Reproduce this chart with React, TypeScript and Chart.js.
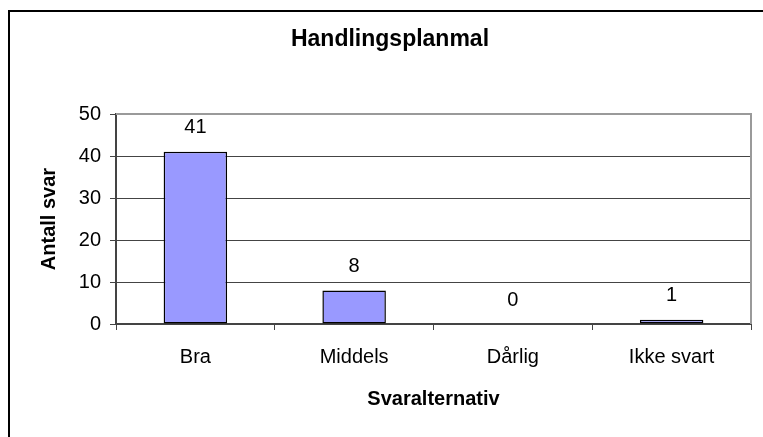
import React, { useEffect, useRef } from "react";
import { Chart, registerables } from "chart.js";
Chart.register(...registerables);

const categories = ["Bra", "Middels", "Dårlig", "Ikke svart"];
const values = [41, 8, 0, 1];
const yTicks = [0, 10, 20, 30, 40, 50];
const titleText = "Handlingsplanmal";
const yTitleText = "Antall svar";
const xTitleText = "Svaralternativ";

const FONT = "'Liberation Sans', Arial, sans-serif";
const W = 753;
const H = 425;

export default function App() {
  const ref = useRef<HTMLCanvasElement>(null);
  useEffect(() => {
    const canvas = ref.current;
    if (!canvas) return;

    const dataLabels = {
      id: "dataLabels",
      afterDatasetsDraw(chart: any) {
        const ctx = chart.ctx;
        const meta = chart.getDatasetMeta(0);
        ctx.save();
        ctx.font = `20px ${FONT}`;
        ctx.fillStyle = "#000";
        ctx.textAlign = "center";
        ctx.textBaseline = "middle";
        meta.data.forEach((el: any, i: number) => {
          ctx.fillText(String(values[i]), el.x, el.y - 24);
        });
        ctx.restore();
      },
    };

    const frame = {
      id: "frame",
      beforeDatasetsDraw(chart: any) {
        const { left, right, top, bottom } = chart.chartArea;
        const ctx = chart.ctx;
        ctx.save();
        ctx.strokeStyle = "#9a9a9a";
        ctx.lineWidth = 2;
        ctx.beginPath();
        ctx.moveTo(left, top);
        ctx.lineTo(right, top);
        ctx.lineTo(right, bottom);
        ctx.stroke();
        ctx.restore();
      },
    };

    const chart = new Chart(canvas, {
      type: "bar",
      data: {
        labels: categories,
        datasets: [
          {
            data: values,
            backgroundColor: "#9999FF",
            borderColor: "#000",
            borderWidth: 1.5,
            borderSkipped: false,
            barPercentage: 0.4,
            categoryPercentage: 1,
          },
        ],
      },
      options: {
        responsive: false,
        animation: false,
        devicePixelRatio: 1,
        layout: { padding: { left: 19, right: 12, top: 0, bottom: 0 } },
        plugins: {
          legend: { display: false },
          tooltip: { enabled: false },
          title: {
            display: true,
            text: titleText,
            color: "#000",
            font: { family: FONT, size: 23, weight: "bold" },
            padding: { top: 14.2, bottom: 60.2 },
          },
        },
        scales: {
          x: {
            offset: true,
            grid: {
              display: true,
              drawOnChartArea: false,
              drawTicks: true,
              tickLength: 6,
              color: "#444",
              offset: true,
            },
            border: { display: true, color: "#444", width: 2 },
            ticks: {
              color: "#000",
              font: { family: FONT, size: 20 },
              padding: 15,
              maxRotation: 0,
              autoSkip: false,
            },
            title: {
              display: true,
              text: xTitleText,
              color: "#000",
              font: { family: FONT, size: 20, weight: "bold" },
              padding: { top: 0, bottom: 26 },
            },
            afterFit(scale: any) {
              scale.height = 113;
            },
          },
          y: {
            min: 0,
            max: 50,
            afterBuildTicks(scale: any) {
              scale.ticks = yTicks.map((v) => ({ value: v }));
            },
            grid: {
              color: (c: any) => (c.tick && c.tick.value === 50 ? "#9a9a9a" : "#444"),
              tickColor: "#444",
              lineWidth: 1,
              tickLength: 6,
            },
            border: { display: true, color: "#444", width: 2 },
            ticks: {
              color: "#000",
              font: { family: FONT, size: 20 },
              padding: 9,
            },
            title: {
              display: true,
              text: yTitleText,
              color: "#000",
              font: { family: FONT, size: 20, weight: "bold" },
              padding: { top: 8.5, bottom: 0 },
            },
            afterFit(scale: any) {
              scale.width = 87;
            },
          },
        },
      },
      plugins: [frame, dataLabels],
    } as any);

    return () => chart.destroy();
  }, []);

  return (
    <div
      style={{
        position: "fixed",
        left: 8,
        top: 10,
        width: 770,
        height: 440,
        borderTop: "2px solid #000",
        borderLeft: "2px solid #000",
        background: "#fff",
      }}
    >
      <canvas ref={ref} width={W} height={H} style={{ display: "block", width: W, height: H }} />
    </div>
  );
}
